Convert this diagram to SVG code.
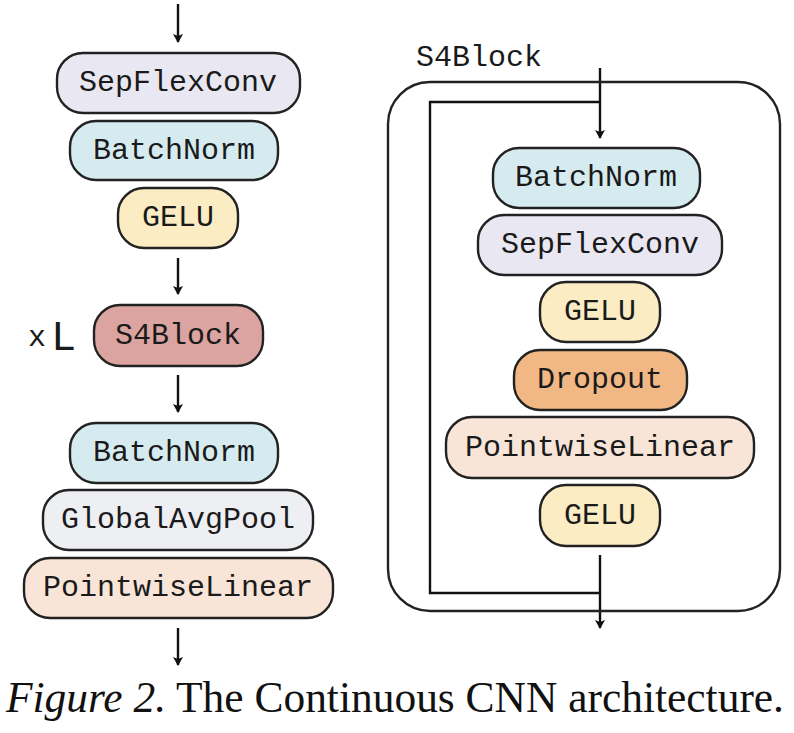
<svg xmlns="http://www.w3.org/2000/svg" width="794" height="733" viewBox="0 0 794 733">
<defs>
<marker id="ah" markerWidth="10" markerHeight="10" refX="8" refY="5" orient="auto" markerUnits="userSpaceOnUse">
<path d="M0,0 L9,5 L0,10 L2,5 Z" fill="#111"/>
</marker>
<style>
.box{stroke:#222;stroke-width:2.4}
.t{font-family:"Liberation Mono","DejaVu Sans Mono",monospace;font-size:30px;fill:#1a1a1a;text-anchor:middle;dominant-baseline:central}
.c{stroke:#111;stroke-width:2.4;fill:none}
.sep{fill:#e9e7f1}.bn{fill:#d6ebf0}.gelu{fill:#fbecc3}.s4{fill:#dca4a0}.gap{fill:#eeeff3}.pl{fill:#f8e5d8}.drop{fill:#f1b885}
</style>
</defs>
<rect width="794" height="733" fill="#fff"/>
<g id="connectors">
<line class="c" x1="178" y1="4" x2="178" y2="42" marker-end="url(#ah)"/>
<line class="c" x1="178" y1="258" x2="178" y2="294" marker-end="url(#ah)"/>
<line class="c" x1="178" y1="375" x2="178" y2="412" marker-end="url(#ah)"/>
<line class="c" x1="178" y1="628" x2="178" y2="665" marker-end="url(#ah)"/>
<line class="c" x1="600" y1="68" x2="600" y2="138" marker-end="url(#ah)"/>
<polyline class="c" points="600,102 430,102 430,593 600,593"/>
<line class="c" x1="600" y1="555" x2="600" y2="628" marker-end="url(#ah)"/>
</g>
<g id="s4block-container">
<rect x="388" y="82" width="392" height="529" rx="42" fill="none" stroke="#222" stroke-width="2.4"/>
<text class="t" x="479" y="58">S4Block</text>
</g>
<g id="n1"><rect class="box sep" x="57" y="53" width="243" height="60" rx="26"/><text class="t" x="178" y="83">SepFlexConv</text></g>
<g id="n2"><rect class="box bn" x="70" y="121" width="208" height="59" rx="26"/><text class="t" x="174" y="151">BatchNorm</text></g>
<g id="n3"><rect class="box gelu" x="118" y="188" width="120" height="60" rx="26"/><text class="t" x="178" y="218">GELU</text></g>
<g id="n4"><rect class="box s4" x="94" y="305" width="169" height="61" rx="26"/><text class="t" x="178" y="336">S4Block</text></g>
<g id="xl"><text x="28" y="346" style="font-family:'Liberation Mono','DejaVu Sans Mono',monospace;font-size:30px;fill:#1a1a1a">x</text><text x="51" y="350" style="font-family:'Liberation Mono','DejaVu Sans Mono',monospace;font-size:42px;fill:#1a1a1a">L</text></g>
<g id="n5"><rect class="box bn" x="70" y="423" width="208" height="60" rx="26"/><text class="t" x="174" y="453">BatchNorm</text></g>
<g id="n6"><rect class="box gap" x="43" y="490" width="270" height="60" rx="26"/><text class="t" x="178" y="520">GlobalAvgPool</text></g>
<g id="n7"><rect class="box pl" x="24" y="558" width="309" height="60" rx="26"/><text class="t" x="178" y="588">PointwiseLinear</text></g>
<g id="r1"><rect class="box bn" x="493" y="148" width="207" height="60" rx="26"/><text class="t" x="596" y="178">BatchNorm</text></g>
<g id="r2"><rect class="box sep" x="478" y="215" width="244" height="60" rx="26"/><text class="t" x="600" y="245">SepFlexConv</text></g>
<g id="r3"><rect class="box gelu" x="540" y="282" width="120" height="60" rx="26"/><text class="t" x="600" y="312">GELU</text></g>
<g id="r4"><rect class="box drop" x="514" y="350" width="173" height="60" rx="26"/><text class="t" x="600" y="380">Dropout</text></g>
<g id="r5"><rect class="box pl" x="446" y="417" width="308" height="61" rx="26"/><text class="t" x="600" y="448">PointwiseLinear</text></g>
<g id="r6"><rect class="box gelu" x="540" y="485" width="120" height="61" rx="26"/><text class="t" x="600" y="516">GELU</text></g>
<g id="caption"><text x="6" y="712" textLength="778" lengthAdjust="spacingAndGlyphs" style="font-family:'Liberation Serif','Times New Roman',serif;font-size:44px;fill:#111"><tspan font-style="italic">Figure 2.</tspan> The Continuous CNN architecture.</text></g>
</svg>
